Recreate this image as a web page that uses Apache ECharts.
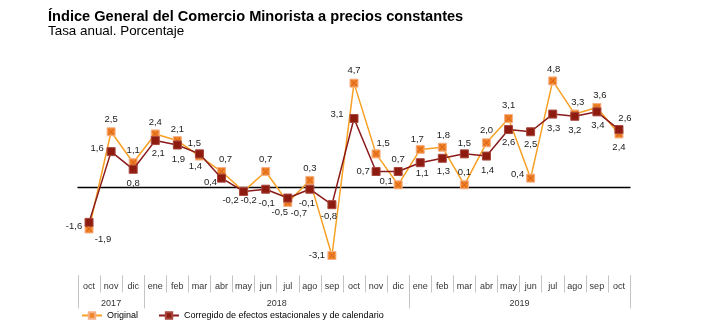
<!DOCTYPE html>
<html><head><meta charset="utf-8">
<script src="https://cdn.jsdelivr.net/npm/echarts@6/dist/echarts.min.js"></script>
<style>html,body{margin:0;padding:0;background:#fff}#chart{width:720px;height:321px}</style>
</head><body><div id="chart"></div>
<script>
// Months from October 2017 to October 2019
const months = ['oct','nov','dic','ene','feb','mar','abr','may','jun','jul','ago','sep','oct','nov','dic','ene','feb','mar','abr','may','jun','jul','ago','sep','oct'];
const years = ['2017','2018','2019'];
// category index where each year starts, plus the end of the axis
const yearBounds = [0, 3, 15, 25];
// Annual rate (%)
const original = [-1.9,2.5,1.1,2.4,2.1,1.4,0.7,-0.2,0.7,-0.7,0.3,-3.1,4.7,1.5,0.1,1.7,1.8,0.1,2.0,3.1,0.4,4.8,3.3,3.6,2.4];
const corregido = [-1.6,1.6,0.8,2.1,1.9,1.5,0.4,-0.2,-0.1,-0.5,-0.1,-0.8,3.1,0.7,0.7,1.1,1.3,1.5,1.4,2.6,2.5,3.3,3.2,3.4,2.6];

// label placement (offset from the marker centre), kept apart from the values
const origLabelOffset = [[14,10],[0,-12],[0,-12],[0,-12],[0,-11],[-4,10],[4,-12],[5,9],[0,-12],[11,11],[0,-12],[-15,0],[0,-13],[7,-10],[-12,-3],[-3,-10],[1,-12],[0,-12],[0,-12],[0,-13],[-13,-4],[1,-12],[3,-12],[3,-12],[0,13]];
const corrLabelOffset = [[-15,4],[-14,-3],[0,14],[3,13],[1,14],[-5,-10],[-11,4],[-13,9],[1,14],[-8,14],[-3,14],[-3,12],[-17,-4],[-13,0],[0,-12],[2,11],[1,13],[0,-10],[1,14],[0,13],[0,13],[1,14],[0,14],[1,14],[6,-11]];

const FONT = '"Liberation Sans", Arial, sans-serif';
const fmt = v => v.toFixed(1).replace('.', ',');
// cross drawn inside the orange markers
const CROSS = 'path://M0,1 L1,0 L5,4 L9,0 L10,1 L6,5 L10,9 L9,10 L5,6 L1,10 L0,9 L4,5 Z';

function withLabels(values, offsets) {
  return values.map((v, i) => ({ value: v, label: { offset: offsets[i] } }));
}

const yearCentres = years.map((y, i) => (yearBounds[i] + yearBounds[i + 1]) / 2);

const chart = echarts.init(document.getElementById('chart'), null, { renderer: 'canvas' });
chart.setOption({
  animation: false,
  backgroundColor: '#fff',
  textStyle: { fontFamily: FONT },
  title: [
    { text: 'Índice General del Comercio Minorista a precios constantes', left: 48, top: 9, padding: 0,
      textStyle: { fontFamily: FONT, fontSize: 14.6, fontWeight: 'bold', color: '#000' } },
    { text: 'Tasa anual. Porcentaje', left: 48, top: 25, padding: 0,
      textStyle: { fontFamily: FONT, fontSize: 13.4, fontWeight: 'normal', color: '#000' } }
  ],
  legend: {
    left: 76, top: 306, itemWidth: 20, itemHeight: 8, itemGap: 20,
    textStyle: { fontFamily: FONT, fontSize: 9, color: '#000' },
    data: ['Original', 'Corregido de efectos estacionales y de calendario']
  },
  grid: { left: 78, right: 90, top: 54.4, height: 221 },
  xAxis: [
    { type: 'category', data: months, boundaryGap: true,
      axisLine: { onZero: true, lineStyle: { color: '#000', width: 1.3 } },
      axisTick: { show: false }, axisLabel: { show: false } },
    { type: 'category', data: months, boundaryGap: true, position: 'bottom',
      axisLine: { show: false, onZero: false },
      axisTick: { show: true, interval: 0, length: 17, lineStyle: { color: '#c4c4c4' } },
      axisLabel: { interval: 0, margin: 7, fontSize: 9, color: '#333', fontFamily: FONT } },
    { type: 'value', min: 0, max: months.length, position: 'bottom',
      axisLine: { show: false, onZero: false }, splitLine: { show: false },
      axisTick: { show: true, customValues: yearBounds, length: 33, lineStyle: { color: '#c4c4c4' } },
      axisLabel: { customValues: yearCentres, margin: 24, fontSize: 9, color: '#333', fontFamily: FONT,
        formatter: v => years[yearCentres.indexOf(v)] || '' } }
  ],
  yAxis: { type: 'value', min: -4, max: 6, show: false, splitLine: { show: false } },
  series: [
    { name: 'Original', type: 'line', xAxisIndex: 0,
      data: withLabels(original, origLabelOffset),
      symbol: 'rect', symbolSize: 8,
      lineStyle: { color: '#F7A023', width: 1.5 },
      itemStyle: { color: '#F08526', borderColor: '#F5B089', borderWidth: 1 },
      label: { show: true, position: 'inside', formatter: p => fmt(p.value), fontSize: 9.5, color: '#222', fontFamily: FONT },
      z: 2 },
    { name: 'Original-cross', type: 'scatter', xAxisIndex: 0, data: original,
      symbol: CROSS, symbolSize: 6, silent: true,
      itemStyle: { color: '#D4561A' }, z: 2 },
    { name: 'Corregido de efectos estacionales y de calendario', type: 'line', xAxisIndex: 0,
      data: withLabels(corregido, corrLabelOffset),
      symbol: 'rect', symbolSize: 8,
      lineStyle: { color: '#8B1A1A', width: 1.5 },
      itemStyle: { color: '#8E1B10', borderColor: '#A8473C', borderWidth: 1 },
      label: { show: true, position: 'inside', formatter: p => fmt(p.value), fontSize: 9.5, color: '#222', fontFamily: FONT },
      z: 3 }
  ]
});
</script></body></html>
